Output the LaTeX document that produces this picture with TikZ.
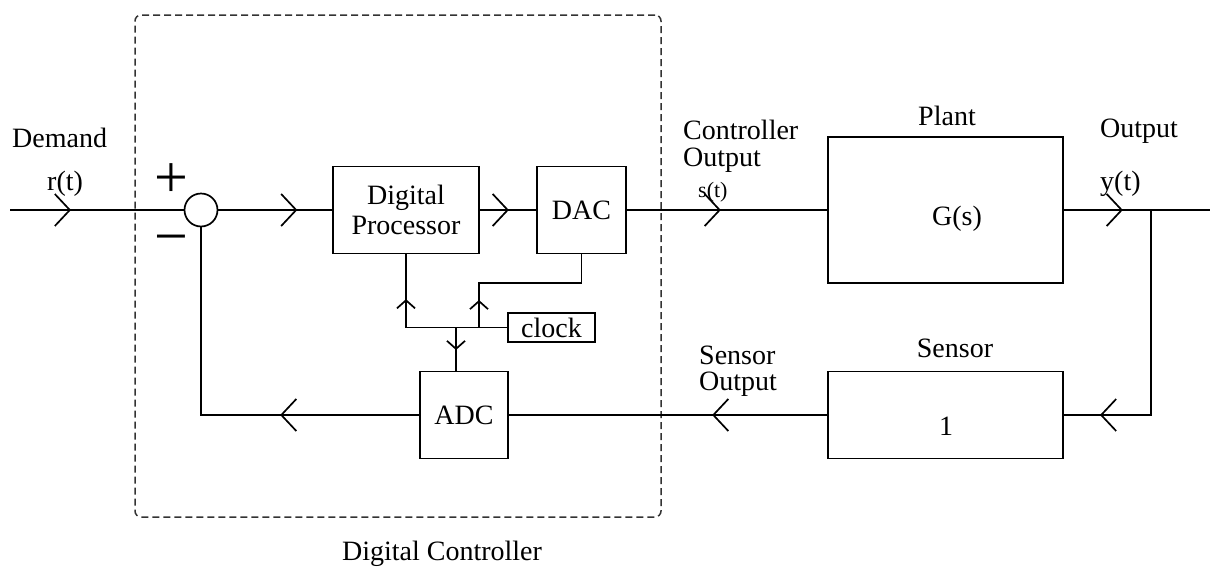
\documentclass[tikz,border=0pt]{standalone}
\usepackage{fontspec}
\setmainfont{Liberation Serif}
\usetikzlibrary{arrows.meta,decorations.markings}

\tikzset{
  wire/.style={line width=1.7pt},
  block/.style={draw, line width=1.7pt, inner sep=0pt, align=center,
                font=\fontsize{28}{30}\selectfont},
  lbl/.style={inner sep=0pt, font=\fontsize{28}{28}\selectfont},
  frame/.style={draw=black!80, line width=1.5pt, dash pattern=on 7pt off 4pt,
                rounded corners=6pt, inner sep=0pt},
  chevron/.style={decoration={markings,
      mark=at position #1 with {\arrow{Straight Barb[length=15pt,width=32pt]}}},
      postaction={decorate}},
  smallchev/.style={decoration={markings,
      mark=at position #1 with {\arrow{Straight Barb[length=8pt,width=18pt]}}},
      postaction={decorate}},
}

\begin{document}
\begin{tikzpicture}[x=1pt,y=-1pt]
\useasboundingbox (0,0) rectangle (1210,568);

% digital controller boundary
\node[frame, minimum width=526pt, minimum height=502pt] (dc) at (398,266) {};
\node[lbl, anchor=base] (dclbl) at (442,560) {Digital Controller};

% blocks
\node[circle, draw, line width=1.7pt, minimum size=33pt, inner sep=0pt] (sum) at (201,210) {};
\node[block, minimum width=146pt, minimum height=87pt] (dp) at (406,210) {Digital\\Processor};
\node[block, minimum width=89pt, minimum height=87pt] (dac) at (581.5,210) {DAC};
\node[block, minimum width=235pt, minimum height=146pt] (plant) at (945.5,210) {};
\node[lbl, anchor=base] (gs) at (957,225) {G(s)};
\node[block, minimum width=235pt, minimum height=87pt] (sensor) at (945.5,415) {};
\node[lbl, anchor=base] (one) at (946,435) {1};
\node[block, minimum width=88pt, minimum height=87pt] (adc) at (464,415) {ADC};
\node[block, minimum width=87pt, minimum height=29pt] (clock) at (551.5,327.5) {clock};

% free ends and junctions
\coordinate (in) at (10,210);
\coordinate (out) at (1210,210);
\coordinate (br) at (1151,210);
\coordinate (j1) at (479,327.5);
\coordinate (j2) at (456,327.5);
\coordinate (bend) at (479,283);

% forward path
\draw[wire, chevron=61pt] (in) -- (sum.west);
\draw[wire, chevron=79pt] (sum.east) -- (dp.west);
\draw[wire, chevron=29pt] (dp.east) -- (dac.west);
\draw[wire, chevron=94pt] (dac.east) -- (plant.west);
\draw[wire, chevron=59pt] (plant.east) -- (out);

% feedback path
\draw[wire, chevron=256pt] (br) |- (sensor.east);
\draw[wire, chevron=115pt] (sensor.west) -- (adc.east);
\draw[wire, chevron=139pt] (adc.west) -| (sum.south);

% clock distribution
\draw[wire, smallchev=129.5pt] (clock.west) -| (dp.south);
\draw[wire, smallchev=27.5pt] (j1) -- (bend) -| (dac.south);
\draw[wire, smallchev=22.5pt] (j2) -- (j2 |- adc.north);

% signs at the summing junction
\node[lbl, font=\fontsize{60}{60}\selectfont] (plus) at (171,181) {+};
\node[lbl, font=\fontsize{60}{60}\selectfont] (minus) at (171,240) {\vphantom{+}−};

% signal labels
\node[lbl, anchor=base west] (demand) at (12,147) {Demand};
\node[lbl, anchor=base west] (rt) at (47,190) {r(t)};
\node[lbl, anchor=base west, font=\fontsize{22}{22}\selectfont] (st) at (698,197) {s(t)};
\node[lbl, anchor=north west, align=left, font=\fontsize{28}{27}\selectfont] (co) at (683,120) {Controller\\Output};
\node[lbl, anchor=base] (plantlbl) at (947,125) {Plant};
\node[lbl, anchor=base west] (outlbl) at (1100,137) {Output};
\node[lbl, anchor=base west] (yt) at (1100,190) {y(t)};
\node[lbl, anchor=base] (senslbl) at (955,357) {Sensor};
\node[lbl, anchor=north west, align=left, font=\fontsize{28}{26}\selectfont] (so) at (699,346) {Sensor\\Output};
\end{tikzpicture}
\end{document}
